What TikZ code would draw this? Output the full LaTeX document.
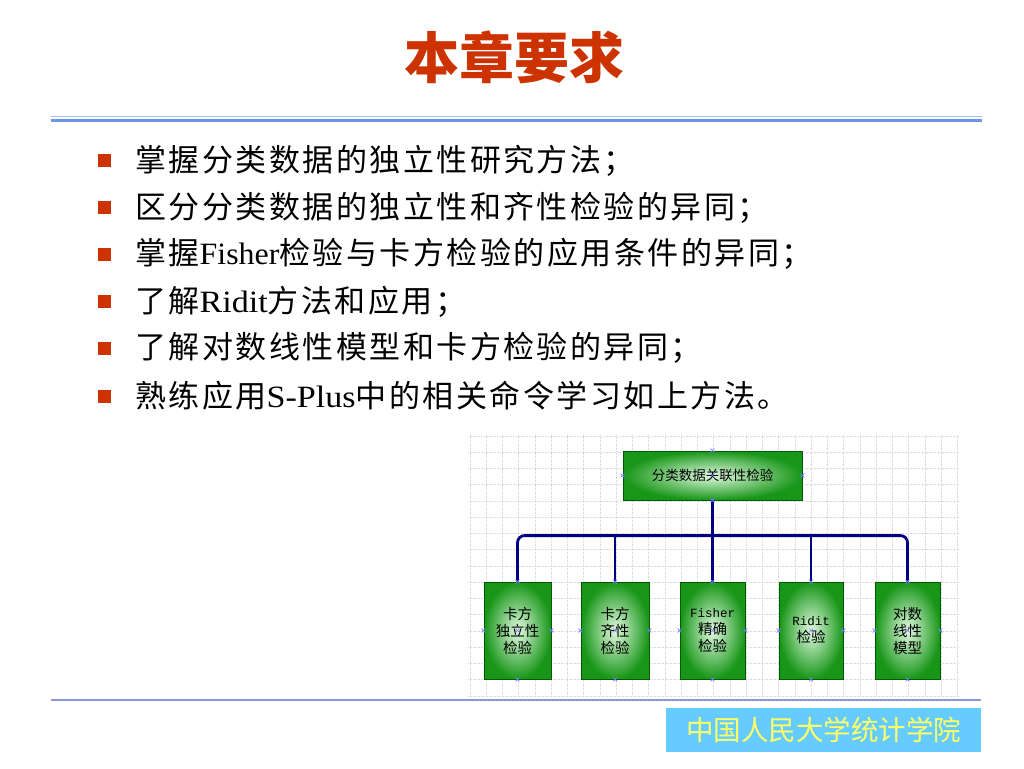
\documentclass[tikz,border=0pt]{standalone}
\usepackage{fontspec}
\usepackage{graphicx}
\usetikzlibrary{calc}
\setmainfont{Liberation Serif}
\newfontfamily\cjk{Noto Sans CJK SC}
\newfontfamily\cjksp[LetterSpace=8]{Noto Sans CJK SC}
\newfontfamily\lat{Liberation Serif}
\newfontfamily\mono{Liberation Mono}
\newcommand{\latw}[2]{\scalebox{#1}[1]{\lat #2}}
\definecolor{titlered}{RGB}{204,51,0}
\definecolor{bulletred}{RGB}{204,51,0}
\definecolor{ruleblue}{RGB}{108,148,232}
\definecolor{rulelight}{RGB}{160,190,250}
\definecolor{footline}{RGB}{136,153,221}
\definecolor{footbg}{RGB}{102,204,255}
\definecolor{footfg}{RGB}{255,255,102}
\definecolor{navy}{RGB}{0,0,128}
\definecolor{boxgreen}{RGB}{24,150,24}
\definecolor{boxlight}{RGB}{225,250,225}
\definecolor{boxedge}{RGB}{0,90,0}
\definecolor{marker}{RGB}{120,120,255}
\begin{document}
\begin{tikzpicture}[x=1pt,y=-1pt,
  bullettext/.style={anchor=west,inner sep=0pt,font=\cjksp\fontsize{31}{31}\selectfont},
  bulletsq/.style={fill=bulletred,draw=none,minimum size=13pt,inner sep=0pt},
  gbox/.style={draw=boxedge,line width=0.8pt,inner color=boxlight,outer color=boxgreen,
    inner sep=0pt,align=center,font=\cjk\fontsize{14.5}{17}\selectfont},
  conn/.style={draw=navy,line width=2.8pt},
  mk/.style={draw=marker,line width=0.6pt}
]
\useasboundingbox (0,0) rectangle (1024,768);
\fill[white] (0,0) rectangle (1024,768);

% title
\node[font=\cjk\bfseries\fontsize{55}{55}\selectfont,text=titlered] (title) at (514,57) {本章要求};

% top rule
\draw[rulelight,line width=1.5pt] (51,116.5) -- (982,116.5);
\draw[ruleblue,line width=3.5pt] (51,120.5) -- (982,120.5);

% bullets
\foreach \y [count=\i] in {160.7,207.7,254.3,301.7,348.3,396}{
  \node[bulletsq] (bs\i) at (104,\y) {};
}
\node[bullettext] (t1) at (135,160.7) {掌握分类数据的独立性研究方法；};
\node[bullettext] (t2) at (135,207.7) {区分分类数据的独立性和齐性检验的异同；};
\node[bullettext] (t3) at (135,254.3) {掌握\latw{1.03}{Fisher}检验与卡方检验的应用条件的异同；};
\node[bullettext] (t4) at (135,301.7) {了解\latw{1.1}{Ridit}方法和应用；};
\node[bullettext] (t5) at (135,348.3) {了解对数线性模型和卡方检验的异同；};
\node[bullettext] (t6) at (135,396) {熟练应用\latw{1.1}{S-Plus}中的相关命令学习如上方法。};

% grid background
\begin{scope}
\foreach \k in {0,...,30}{
  \draw[gray!30,densely dotted,line width=0.6pt] (470+16.25*\k,435) -- (470+16.25*\k,695);
}
\foreach \k in {0,...,16}{
  \draw[gray!30,densely dotted,line width=0.6pt] (468,436+16.25*\k) -- (958,436+16.25*\k);
}
\end{scope}

% boxes
\node[gbox,minimum width=179pt,minimum height=49pt,font=\cjk\fontsize{13.5}{17}\selectfont] (top) at (712.5,475.5) {分类数据关联性检验};
\node[gbox,minimum width=67pt,minimum height=97pt] (b1) at (517.5,630.5) {卡方\\独立性\\检验};
\node[gbox,minimum width=68pt,minimum height=97pt] (b2) at (615,630.5) {卡方\\齐性\\检验};
\node[gbox,minimum width=65pt,minimum height=97pt] (b3) at (712.5,630.5) {{\mono\fontsize{12.5}{17}\selectfont Fisher}\\精确\\检验};
\node[gbox,minimum width=64pt,minimum height=97pt] (b4) at (811,630.5) {{\mono\fontsize{12.5}{17}\selectfont Ridit}\\检验};
\node[gbox,minimum width=65pt,minimum height=97pt] (b5) at (907.5,630.5) {对数\\线性\\模型};

% connectors
\draw[conn] (top.south) -- (b3.north);
\draw[conn,rounded corners=7pt] (b1.north) -- ++(0,-46) -| (b5.north);
\draw[conn] (b2.north) -- ++(0,-46);
\draw[conn] (b4.north) -- ++(0,-46);

% connection markers
\foreach \n in {top,b1,b2,b3,b4,b5}{
  \foreach \a in {north,south,east,west,center}{
    \draw[mk] ($(\n.\a)+(-2,-2)$) -- ($(\n.\a)+(2,2)$) ($(\n.\a)+(-2,2)$) -- ($(\n.\a)+(2,-2)$);
  }
}

% bottom rule and footer
\draw[footline,line width=1.5pt] (51,700) -- (981,700);
\node[fill=footbg,minimum width=315pt,minimum height=44pt,inner sep=0pt,
  font=\cjk\fontsize{27.5}{27.5}\selectfont,text=footfg] (footer) at (823.5,730) {中国人民大学统计学院};
\end{tikzpicture}
\end{document}
